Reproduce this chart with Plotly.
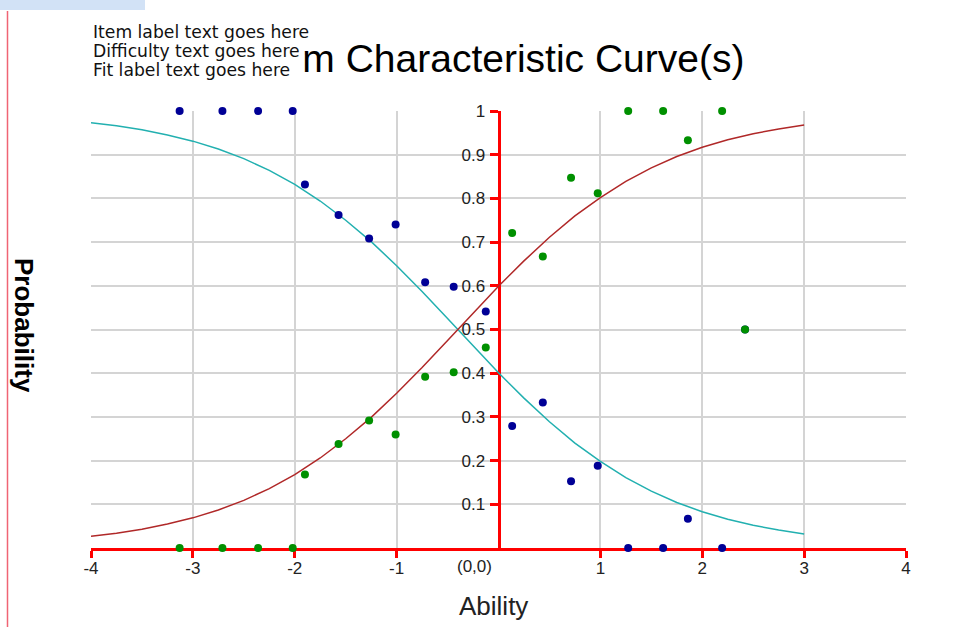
import plotly.graph_objects as go

# ---------------- data ----------------
curve_x = [-4.0, -3.75, -3.5, -3.25, -3.0, -2.75, -2.5, -2.25, -2.0, -1.75,
           -1.5, -1.25, -1.0, -0.75, -0.5, -0.25, 0.0, 0.25, 0.5, 0.75,
           1.0, 1.25, 1.5, 1.75, 2.0, 2.25, 2.5, 2.75, 3.0]
curve_red = [0.027, 0.034, 0.043, 0.055, 0.069, 0.087, 0.109, 0.136, 0.168, 0.206,
             0.250, 0.299, 0.354, 0.413, 0.475, 0.537, 0.599, 0.657, 0.711, 0.760,
             0.802, 0.839, 0.870, 0.896, 0.917, 0.934, 0.948, 0.959, 0.968]
curve_cyan = [0.973, 0.966, 0.957, 0.945, 0.931, 0.913, 0.891, 0.864, 0.832, 0.794,
              0.750, 0.701, 0.646, 0.587, 0.525, 0.463, 0.401, 0.343, 0.289, 0.240,
              0.198, 0.161, 0.130, 0.104, 0.083, 0.066, 0.052, 0.041, 0.032]

obs_x = [-3.13, -2.71, -2.36, -2.02, -1.90, -1.57, -1.27, -1.01, -0.72, -0.44,
         -0.125, 0.134, 0.435, 0.712, 0.974, 1.273, 1.616, 1.859, 2.195, 2.42]
obs_blue = [1.0, 1.0, 1.0, 1.0, 0.832, 0.762, 0.708, 0.740, 0.608, 0.598,
            0.541, 0.279, 0.333, 0.153, 0.188, 0.0, 0.0, 0.067, 0.0, 0.5]
obs_green = [0.0, 0.0, 0.0, 0.0, 0.168, 0.238, 0.292, 0.260, 0.392, 0.402,
             0.459, 0.721, 0.667, 0.847, 0.812, 1.0, 1.0, 0.933, 1.0, 0.5]

x_tick_vals = [-4, -3, -2, -1, 1, 2, 3, 4]
x_tick_text = ["-4", "-3", "-2", "-1", "1", "2", "3", "4"]
y_tick_vals = [0.1, 0.2, 0.3, 0.4, 0.5, 0.6, 0.7, 0.8, 0.9, 1.0]
y_tick_text = ["0.1", "0.2", "0.3", "0.4", "0.5", "0.6", "0.7", "0.8", "0.9", "1"]

title_text = "Item Characteristic Curve(s)"
overlay_lines = ["Item label text goes here",
                 "Difficulty text goes here",
                 "Fit label text goes here"]
origin_label = "(0,0)"
x_title = "Ability"
y_title = "Probability"

# ---------------- figure ----------------
W, H = 978, 627
L, R, T, B = 91, 72, 111, 79
PW, PH = W - L - R, H - T - B


def px_x(p):
    return (p - L) / PW


def px_y(p):
    return (H - B - p) / PH


FONT = "Liberation Sans, Arial, sans-serif"
RED_AXIS = "#ff0000"

fig = go.Figure()
fig.add_trace(go.Scatter(x=curve_x, y=curve_cyan, mode="lines",
                         line=dict(color="#22b0b0", width=1.5),
                         hoverinfo="skip", showlegend=False))
fig.add_trace(go.Scatter(x=curve_x, y=curve_red, mode="lines",
                         line=dict(color="#b02828", width=1.5),
                         hoverinfo="skip", showlegend=False))
fig.add_trace(go.Scatter(x=obs_x, y=obs_blue, mode="markers",
                         marker=dict(color="#000096", size=8),
                         cliponaxis=False, showlegend=False))
fig.add_trace(go.Scatter(x=obs_x, y=obs_green, mode="markers",
                         marker=dict(color="#009000", size=8),
                         cliponaxis=False, showlegend=False))

fig.update_layout(
    width=W, height=H,
    margin=dict(l=L, r=R, t=T, b=B, pad=0),
    paper_bgcolor="white", plot_bgcolor="white",
    showlegend=False,
    xaxis=dict(range=[-4, 4], tickvals=x_tick_vals, ticktext=x_tick_text,
               showgrid=True, gridcolor="#d4d4d4", gridwidth=2,
               zeroline=False, showline=True, linecolor=RED_AXIS, linewidth=3,
               ticks="outside", ticklen=7, tickwidth=3, tickcolor=RED_AXIS,
               ticklabelstandoff=-4,
               tickfont=dict(family=FONT, size=17, color="#222222"),
               layer="below traces", fixedrange=True),
    yaxis=dict(range=[0, 1], tickvals=y_tick_vals, ticktext=y_tick_text,
               anchor="free", position=0.5,
               showgrid=True, gridcolor="#d4d4d4", gridwidth=2,
               zeroline=False, showline=True, linecolor=RED_AXIS, linewidth=3,
               ticks="outside", ticklen=8, tickwidth=3, tickcolor=RED_AXIS,
               ticklabelstandoff=1,
               tickfont=dict(family=FONT, size=17, color="#222222"),
               layer="below traces", fixedrange=True),
)

# decorations from the screenshot edge
fig.add_shape(type="rect", xref="paper", yref="paper",
              x0=px_x(0), x1=px_x(145), y0=px_y(10), y1=px_y(0),
              fillcolor="#d2e2f6", line=dict(width=0), layer="below")
fig.add_shape(type="line", xref="paper", yref="paper",
              x0=px_x(7.5), x1=px_x(7.5), y0=px_y(11), y1=px_y(627),
              line=dict(color="#f06474", width=1.5), layer="below")

annotations = []
# title
annotations.append(dict(text=title_text, xref="paper", yref="paper",
                        x=0.504, y=px_y(59), xanchor="center", yanchor="middle",
                        showarrow=False,
                        font=dict(family=FONT, size=39, color="#000000")))
# white box covering the start of the title
annotations.append(dict(text=" ", xref="paper", yref="paper",
                        x=px_x(91), y=px_y(21), xanchor="left", yanchor="top",
                        width=212, height=61, bgcolor="white", borderpad=0,
                        borderwidth=0, showarrow=False,
                        font=dict(family=FONT, size=10)))
for i, line in enumerate(overlay_lines):
    annotations.append(dict(text=line, xref="paper", yref="paper",
                            x=px_x(91), y=px_y(32 + 19 * i), xanchor="left",
                            yanchor="middle", showarrow=False,
                            font=dict(family="DejaVu Sans, sans-serif",
                                      size=17.2, color="#111111")))
# origin label
annotations.append(dict(text=origin_label, xref="x", yref="y", x=0, y=0,
                        xanchor="right", yanchor="top", xshift=-5, yshift=-7,
                        showarrow=False,
                        font=dict(family=FONT, size=17, color="#222222")))
# axis titles
annotations.append(dict(text=x_title, xref="paper", yref="paper",
                        x=px_x(493), y=px_y(606), xanchor="center",
                        yanchor="middle", showarrow=False,
                        font=dict(family=FONT, size=26, color="#222222")))
annotations.append(dict(text="<b>" + y_title + "</b>", xref="paper",
                        yref="paper", x=px_x(24), y=px_y(325),
                        xanchor="center", yanchor="middle", textangle=90,
                        showarrow=False,
                        font=dict(family=FONT, size=26, color="#000000")))
fig.update_layout(annotations=annotations)

fig.write_html("out.html",
               config={"displayModeBar": False},
               post_script="document.body.style.margin='0';"
                           "document.body.style.overflow='hidden';")
